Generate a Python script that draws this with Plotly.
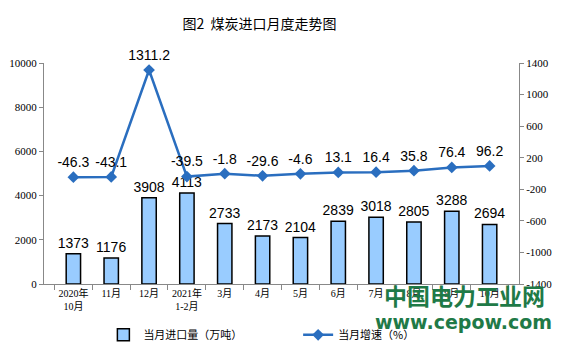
import plotly.graph_objects as go

categories = ["2020年<br>10月", "11月", "12月", "2021年<br>1-2月", "3月", "4月", "5月", "6月", "7月", "8月", "9月", "10月"]
import_volume = [1373, 1176, 3908, 4113, 2733, 2173, 2104, 2839, 3018, 2805, 3288, 2694]
growth = [-46.3, -43.1, 1311.2, -39.5, -1.8, -29.6, -4.6, 13.1, 16.4, 35.8, 76.4, 96.2]
left_ticks = [0, 2000, 4000, 6000, 8000, 10000]
right_ticks = [-1400, -1000, -600, -200, 200, 600, 1000, 1400]

fig = go.Figure()
fig.add_trace(go.Bar(
    x=categories, y=import_volume, name="当月进口量（万吨）",
    marker=dict(color="#99CCFF", line=dict(color="#000000", width=1.5)),
    width=0.38,
    text=[str(v) for v in import_volume], textposition="outside",
    constraintext="none",
    textfont=dict(family="Liberation Sans, Arial", size=14, color="#000"),
    cliponaxis=False, legend="legend",
))
fig.add_trace(go.Scatter(
    x=categories, y=growth, name="当月增速（%）", yaxis="y2",
    mode="lines+markers+text",
    line=dict(color="#2A6EBF", width=2.5),
    marker=dict(symbol="diamond", size=9, color="#2A6EBF"),
    text=[f"{v:.1f}" for v in growth], textposition="top center",
    textfont=dict(family="Liberation Sans, Arial", size=14, color="#000"),
    cliponaxis=False, legend="legend2",
))

legend_common = dict(orientation="h", yref="container", yanchor="middle", y=0.046,
                     xanchor="left",
                     font=dict(family="Noto Sans CJK SC", size=11, color="#000"),
                     bgcolor="rgba(0,0,0,0)", itemwidth=30)

fig.update_layout(
    width=564, height=351,
    margin=dict(l=44, r=45, t=63, b=67),
    paper_bgcolor="white", plot_bgcolor="white",
    title=dict(text="图2  煤炭进口月度走势图", x=0.46, xanchor="center", y=0.93, yanchor="middle",
               font=dict(family="Noto Sans CJK SC", size=14, color="#000")),
    showlegend=True,
    legend=dict(x=0.125, **legend_common),
    legend2=dict(x=0.535, **legend_common),
    xaxis=dict(type="category", showline=True, linecolor="#888", linewidth=1,
               ticks="outside", tickson="boundaries", ticklen=5, tickcolor="#888",
               tickangle=0, automargin=False,
               tickfont=dict(family="Liberation Serif, Noto Sans CJK SC", size=10, color="#000"),
               showgrid=False),
    yaxis=dict(range=[0, 10000], tickvals=left_ticks, ticktext=[str(v) for v in left_ticks],
               showline=True, linecolor="#888", linewidth=1, automargin=False,
               ticks="outside", ticklen=4, tickcolor="#888", showgrid=False, zeroline=False,
               tickfont=dict(family="Liberation Serif", size=11, color="#000")),
    yaxis2=dict(range=[-1400, 1400], tickvals=right_ticks, ticktext=[str(v) for v in right_ticks],
                overlaying="y", side="right", automargin=False,
                showline=True, linecolor="#888", linewidth=1, ticks="outside", ticklen=4,
                tickcolor="#888", showgrid=False, zeroline=False,
                tickfont=dict(family="Liberation Serif", size=11, color="#000")),
)

fig.add_annotation(text="<b>中国电力工业网</b>", x=0.886, y=-0.05, xref="paper", yref="paper",
                   xanchor="center", yanchor="middle", showarrow=False,
                   font=dict(family="Noto Sans CJK SC", size=23, color="#1F7A47"))
fig.add_annotation(text="<b>www.cepow.com</b>", x=0.883, y=-0.172, xref="paper", yref="paper",
                   xanchor="center", yanchor="middle", showarrow=False,
                   font=dict(family="DejaVu Sans", size=19, color="#1F7A47"))

fig.write_html("out.html")
